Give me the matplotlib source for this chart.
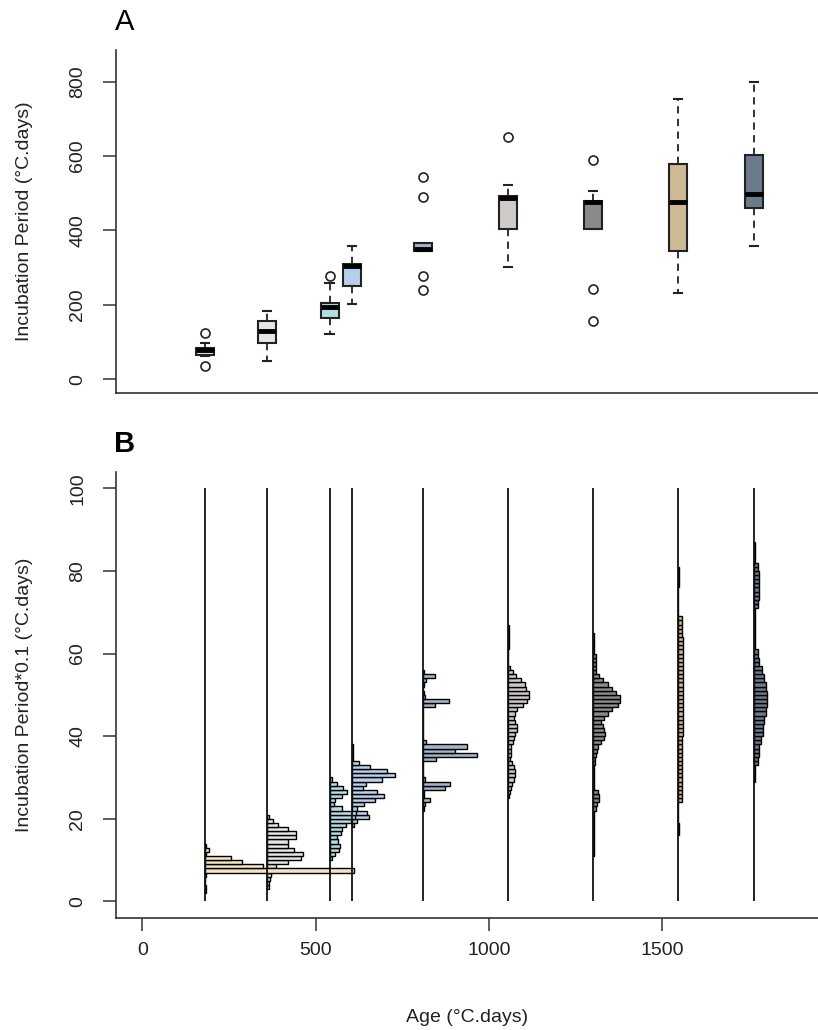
import numpy as np
import matplotlib.pyplot as plt
from matplotlib import font_manager

# ---- fonts -------------------------------------------------------
_names = {f.name for f in font_manager.fontManager.ttflist}
plt.rcParams['font.family'] = [f for f in ['Liberation Sans Narrow', 'Liberation Sans', 'DejaVu Sans'] if f in _names]

# ---- data --------------------------------------------------------
AGES = [180, 360, 540, 605, 810, 1055, 1300, 1545, 1765]
COLORS = ['#F3E2C3', '#E8E6E4', '#B5DCE0', '#B8CFEA', '#A3B4CA',
          '#CFCAC8', '#8A8A8A', '#CDB994', '#6B7B8C']

# panel A : boxplot stats (incubation period, °C.days)
MED = [78, 129, 195, 304, 350, 488, 476, 476, 499]
Q1 = [66, 98, 165, 251, 345, 403, 403, 345, 461]
Q3 = [84, 156, 206, 310, 367, 493, 480, 579, 602]
WLO = [62, 49, 121, 202, 345, 301, 403, 233, 359]
WHI = [98, 183, 260, 358, 367, 522, 507, 754, 799]
FLIERS = [[125, 36], [], [277], [], [544, 490, 277, 241], [651], [589, 242, 156], [], []]

# panel B : histograms (incubation*0.1), first bin lower edge + bar lengths
H_START = [2, 3, 10, 18, 22, 25, 11, 16, 29]
H1 = [1.5, 1.5, 0.5, 0.5, 1.0, 149, 58, 37, 26, 1.5, 4.0, 1.5]
H2 = [1.5, 2.0, 3.0, 4.0, 6.0, 9.3, 20.7, 34, 36, 27.3, 20.7, 20.7, 29, 29, 20.7, 11, 5.7, 2.3]
H3 = [2.3, 5.7, 9.0, 10.3, 8.7, 7.0, 11.3, 12, 16, 21, 25, 26, 12, 4.7, 5.0, 12, 17, 13.7, 7.0, 2.3]
H4 = [1.7, 5.3, 17, 15.3, 5.0, 12, 23.3, 32, 25.3, 11, 14.3, 30, 42.7, 35.3, 17.7, 7.0, 0.7, 0.7, 0.7, 0.7]
H5 = [0.5, 1.7, 7.3, 0.7, 0.5, 22.3, 27.3, 1.7, 0, 0, 0, 0, 13.3, 54, 32.3, 44, 3.0,
      0, 0, 0, 0, 0, 0, 0, 0, 12.3, 25.7, 1.7, 0.5, 0, 0.5, 3.3, 12.3, 0.5]
H6 = [1.0, 1.7, 3.0, 4.0, 5.7, 7.3, 7.3, 6.3, 4.0, 2.3, 3.3, 3.0, 3.3, 5.0, 5.7, 7.3,
      9.0, 9.0, 6.7, 5.7, 7.3, 9.0, 15, 19, 20.7, 20.7, 18.3, 17.3, 13, 8.3, 4.7, 2.3,
      0, 0, 0, 0, 0.7, 0.7, 0.7, 0.7, 0.7, 0.7]
H7 = [0.7, 0.7, 0.7, 0.7, 0.7, 0.7, 0.7, 0.7, 0.7, 0.7, 0.7, 2.7, 4.0, 5.7, 5.7, 5.0,
      0.7, 0.7, 0.7, 0.7, 0.7, 0.7, 1.7, 1.7, 2.7, 4.0, 5.0, 8.3, 10.7, 12.3, 11, 10,
      8.3, 11, 15, 19, 25, 27.3, 26.7, 23.3, 19, 15, 10, 5.7, 3.3, 3.3, 3.3, 3.3, 3.3,
      0.7, 0.7, 0.7, 0.7, 0.7]
H8 = [1.0, 1.0, 1.0, 0.5, 0.5, 0.5, 0.5, 0.5, 4.0, 4.0, 4.0, 4.0, 4.0, 4.0, 4.0, 4.0,
      4.0, 4.0, 4.0, 4.0, 4.0, 4.0, 4.0, 4.0, 5.3, 5.3, 5.3, 5.3, 5.3, 5.3, 5.3, 5.3,
      5.3, 5.3, 5.3, 5.3, 5.3, 5.3, 5.3, 5.3, 5.3, 5.3, 5.3, 5.3, 5.3, 5.3, 5.3, 5.3,
      4.0, 4.0, 4.0, 4.0, 4.0, 0.5, 0.5, 0.5, 0.5, 0.5, 0.5, 0.5, 1.0, 1.0, 1.0, 1.0, 1.0]
H9 = [0.7, 0.7, 0.7, 0.7, 3.3, 3.3, 5.0, 5.0, 5.0, 6.7, 6.7, 8.3, 8.3, 8.3, 10, 10,
      12, 12, 12.7, 12.7, 12.7, 12.7, 12, 12, 10, 10, 7.7, 7.7, 5.0, 5.0, 3.3, 3.3,
      0.7, 0.7, 0.7, 0.7, 0.7, 0.7, 0.7, 0.7, 0.7, 0.7, 3.3, 3.3, 5.0, 5.0, 5.0, 5.0,
      5.0, 5.0, 5.0, 3.3, 3.3, 0.7, 0.7, 0.7, 0.7, 0.7]
HISTS = [H1, H2, H3, H4, H5, H6, H7, H8, H9]
HIST_SCALE = 2.885   # bar length -> age units

# ---- figure ------------------------------------------------------
W, H = 818, 1030
fig = plt.figure(figsize=(W / 100, H / 100), dpi=100)
axA = fig.add_axes([116 / W, 1 - 393 / H, (W - 116) / W, (393 - 50) / H])
axB = fig.add_axes([116 / W, 1 - 918 / H, (W - 116) / W, (918 - 471.7) / H])

EDGE = '#222222'
FS = 14

for ax in (axA, axB):
    ax.set_xlim(-76, 1949)
    for s in ('top', 'right'):
        ax.spines[s].set_visible(False)
    for s in ('left', 'bottom'):
        ax.spines[s].set_linewidth(1.2)
        ax.spines[s].set_color('#333333')
    ax.tick_params(length=9.5, width=1.1, color='#333333', labelsize=FS,
                   labelcolor='#222222')
    ax.tick_params(axis='y', pad=12)

# ---- panel A -----------------------------------------------------
stats = []
for i in range(len(AGES)):
    stats.append(dict(med=MED[i], q1=Q1[i], q3=Q3[i], whislo=WLO[i],
                      whishi=WHI[i], fliers=FLIERS[i]))
bp = axA.bxp(stats, positions=AGES, widths=52, capwidths=24, patch_artist=True,
             boxprops=dict(edgecolor=EDGE, linewidth=1.5),
             whiskerprops=dict(color=EDGE, linewidth=1.3, linestyle=(0, (4, 3))),
             capprops=dict(color=EDGE, linewidth=1.5),
             medianprops=dict(color='black', linewidth=3.5, solid_capstyle='butt'),
             flierprops=dict(marker='o', markerfacecolor='none', markeredgecolor=EDGE,
                             markersize=6.5, markeredgewidth=1.2))
for patch, c in zip(bp['boxes'], COLORS):
    patch.set_facecolor(c)

axA.set_ylim(-37, 885)
axA.set_yticks([0, 200, 400, 600, 800])
axA.tick_params(axis='x', bottom=False, labelbottom=False)
axA.set_ylabel('Incubation Period (°C.days)', fontsize=FS, color='#222222')
axA.yaxis.set_label_coords(-0.13, 0.5)

# ---- panel B -----------------------------------------------------
for i in reversed(range(len(AGES))):
    lengths = np.array(HISTS[i]) * HIST_SCALE
    bins = H_START[i] + np.arange(len(lengths))
    axB.barh(bins, lengths, height=1, left=AGES[i], align='edge',
             color=COLORS[i], edgecolor='black', linewidth=1.0, zorder=2)
axB.vlines(AGES, 0, 100, color='#111111', linewidth=1.3, zorder=3)

axB.set_ylim(-4, 104)
axB.set_yticks([0, 20, 40, 60, 80, 100])
axB.set_xticks([0, 500, 1000, 1500])
axB.tick_params(axis='x', pad=8)
axB.set_ylabel('Incubation Period*0.1 (°C.days)', fontsize=FS, color='#222222')
axB.yaxis.set_label_coords(-0.13, 0.5)
axB.set_xlabel('Age (°C.days)', fontsize=FS, color='#222222')
axB.xaxis.set_label_coords(0.5, -0.205)

for ax in (axA, axB):
    ax.yaxis.label.set_va('center')
    for lab in ax.get_yticklabels():
        lab.set_rotation(90)
        lab.set_va('center')

fig.text(125 / W, 1 - 22 / H, 'A', fontsize=21, ha='center', va='center')
fig.text(125 / W, 1 - 444 / H, 'B', fontsize=21, ha='center', va='center', fontweight='bold')

fig.savefig('out.png', dpi=100)
